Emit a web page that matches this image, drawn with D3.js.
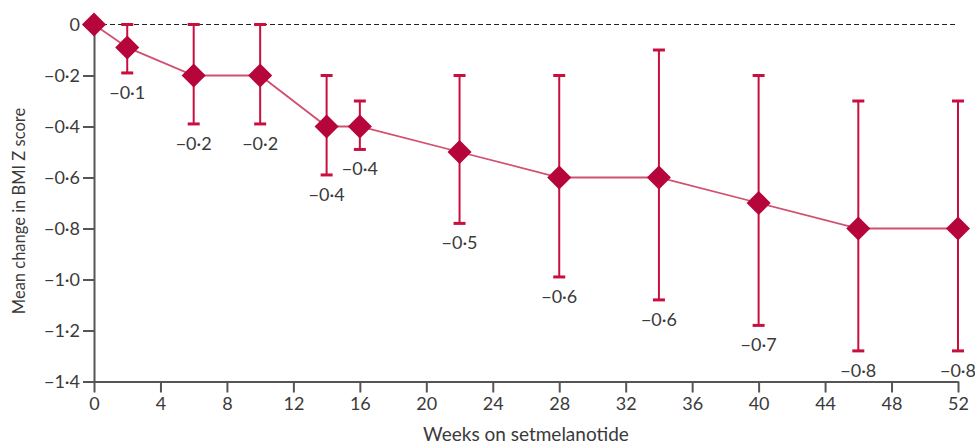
<!DOCTYPE html>
<html lang="en">
<head>
<meta charset="utf-8">
<script src="https://d3js.org/d3.v7.min.js"></script>
<style>
  body { margin: 0; background: #fff; }
  text { font-family: Lato, "Open Sans", sans-serif; }
</style>
</head>
<body>
<div id="chart"></div>
<script>
// data
const weeks = [0, 2, 6, 10, 14, 16, 22, 28, 34, 40, 46, 52];
const means = [0, -0.09, -0.2, -0.2, -0.4, -0.4, -0.5, -0.6, -0.6, -0.7, -0.8, -0.8];
const upper = [null, 0, 0, 0, -0.2, -0.3, -0.2, -0.2, -0.1, -0.2, -0.3, -0.3];
const lower = [null, -0.19, -0.39, -0.39, -0.59, -0.49, -0.78, -0.99, -1.08, -1.18, -1.28, -1.28];
const labels = [null, "−0·1", "−0·2", "−0·2", "−0·4", "−0·4", "−0·5", "−0·6", "−0·6", "−0·7", "−0·8", "−0·8"];
const xTicks = [0, 4, 8, 12, 16, 20, 24, 28, 32, 36, 40, 44, 48, 52];
const yTicks = [0, -0.2, -0.4, -0.6, -0.8, -1.0, -1.2, -1.4];

const data = weeks.map((w, i) => ({ w: w, m: means[i], hi: upper[i], lo: lower[i], label: labels[i] }));

const W = 975, H = 447;
const margin = { top: 24.5, right: 17, bottom: 65.5, left: 94 };

const svg = d3.select("#chart").append("svg")
  .attr("width", W)
  .attr("height", H);

const x = d3.scaleLinear().domain([0, 52]).range([margin.left, W - margin.right]);
const y = d3.scaleLinear().domain([0, -1.4]).range([margin.top, H - margin.bottom]);

const fmt = d => d === 0 ? "0" : "−" + Math.abs(d).toFixed(1).replace(".", "·");

// dashed zero line
svg.append("line")
  .attr("x1", x(0)).attr("x2", x(52))
  .attr("y1", y(0)).attr("y2", y(0))
  .attr("stroke", "#222")
  .attr("stroke-width", 1.2)
  .attr("stroke-dasharray", "5,3");

// y axis
const gy = svg.append("g")
  .attr("transform", "translate(" + x(0) + ",0)")
  .call(d3.axisLeft(y).tickValues(yTicks).tickFormat(fmt).tickSize(11).tickSizeOuter(0));

// x axis
const gx = svg.append("g")
  .attr("transform", "translate(0," + y(-1.4) + ")")
  .call(d3.axisBottom(x).tickValues(xTicks).tickSize(11).tickSizeOuter(0));

[gx, gy].forEach(g => {
  g.selectAll("path, line").attr("stroke", "#555").attr("stroke-width", 2);
  g.selectAll("text").attr("fill", "#3a3a3a").style("font-size", "18px");
});
gy.selectAll("text").attr("x", -14);
gx.selectAll("text").attr("y", 16);

// axis titles
svg.append("text")
  .attr("transform", "translate(25," + 211 + ") rotate(-90)")
  .attr("text-anchor", "middle")
  .attr("fill", "#3a3a3a")
  .style("font-size", "16.5px")
  .text("Mean change in BMI Z score");

svg.append("text")
  .attr("x", (x(0) + x(52)) / 2)
  .attr("y", 441)
  .attr("text-anchor", "middle")
  .attr("fill", "#3a3a3a")
  .style("font-size", "19px")
  .text("Weeks on setmelanotide");

const bars = data.filter(d => d.hi !== null);

// error bars
svg.selectAll(".eb").data(bars).enter().append("line")
  .attr("class", "eb")
  .attr("x1", d => x(d.w)).attr("x2", d => x(d.w))
  .attr("y1", d => y(d.hi)).attr("y2", d => y(d.lo))
  .attr("stroke", "#c8103f").attr("stroke-width", 2);

["hi", "lo"].forEach(k => {
  svg.selectAll(".cap-" + k).data(bars).enter().append("line")
    .attr("class", "cap-" + k)
    .attr("x1", d => x(d.w) - 6).attr("x2", d => x(d.w) + 6)
    .attr("y1", d => y(d[k])).attr("y2", d => y(d[k]))
    .attr("stroke", "#c8103f").attr("stroke-width", 3);
});

// connecting line
svg.append("path")
  .datum(data)
  .attr("fill", "none")
  .attr("stroke", "#d2506f")
  .attr("stroke-width", 1.8)
  .attr("d", d3.line().x(d => x(d.w)).y(d => y(d.m)));

// diamonds
svg.selectAll(".pt").data(data).enter().append("path")
  .attr("class", "pt")
  .attr("transform", d => "translate(" + x(d.w) + "," + y(d.m) + ") rotate(45)")
  .attr("d", d3.symbol().type(d3.symbolSquare).size(290))
  .attr("fill", "#b5053a");

// value labels under the lower caps
svg.selectAll(".lbl").data(bars).enter().append("text")
  .attr("class", "lbl")
  .attr("x", d => x(d.w))
  .attr("y", d => y(d.lo) + 26)
  .attr("text-anchor", "middle")
  .attr("fill", "#3a3a3a")
  .style("font-size", "18px")
  .text(d => d.label);
</script>
</body>
</html>
